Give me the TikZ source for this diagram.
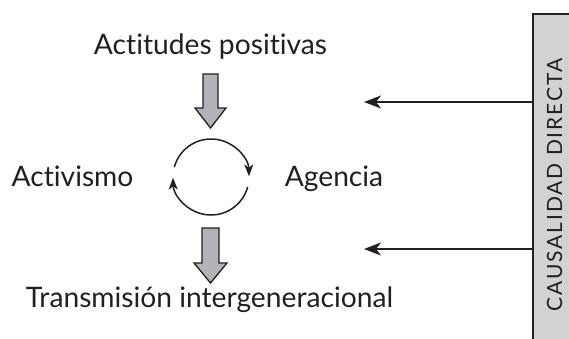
\documentclass[tikz,border=0pt]{standalone}
\usepackage{fontspec}
\setmainfont[Ligatures=NoCommon]{Lato}
\newfontfamily\spacedlato[LetterSpace=9]{Lato}
\usetikzlibrary{arrows.meta}
\definecolor{ink}{HTML}{231F20}
\definecolor{boxgray}{HTML}{D1D2D4}
\definecolor{arrgray}{HTML}{B1B3B6}
\tikzset{
  label text/.style={font=\fontsize{28.2}{33}\selectfont, text=ink, inner sep=0pt, anchor=base},
  side text/.style={font=\spacedlato\fontsize{21}{25}\selectfont, text=ink, inner sep=0pt, rotate=90},
  link/.style={draw=ink, line width=1.5pt, -{Stealth[length=17pt,width=13pt,inset=5pt]}},
  cycle arc/.style={draw=ink, line width=1.5pt, -{Stealth[length=12pt,width=9pt,inset=3.5pt]}},
  block arrow/.style={draw=ink, fill=arrgray, line width=1.3pt, line join=miter},
}
\begin{document}
\begin{tikzpicture}[x=1pt,y=1pt]
\useasboundingbox (0,0) rectangle (569,339);
% side box
\fill[boxgray] (533,0) rectangle (569,325);
\draw[ink, line width=2.2pt] (533,0) -- (533,325) -- (569,325);
\node[side text] (causal) at (554.5,154) {CAUSALIDAD DIRECTA};
\coordinate (edge) at (533,0);
% labels
\node[label text] (act) at (210.5,284) {Actitudes positivas};
\node[label text] (activ) at (72.5,152) {Activismo};
\node[label text] (agen) at (334,152) {Agencia};
\node[label text] (trans) at (209.5,31.5) {Transmisión intergeneracional};
% block arrows
\draw[block arrow] (203,265) -- (218,265) -- (218,231) -- (226,231) -- (210.5,211) -- (195,231) -- (203,231) -- cycle;
\draw[block arrow] (202,111) -- (219,111) -- (219,76) -- (227,76) -- (210.5,56) -- (194,76) -- (202,76) -- cycle;
% cycle
\coordinate (cc) at (211,162);
\draw[cycle arc] ([shift={(165:38)}]cc) arc[start angle=165, end angle=1, radius=38];
\draw[cycle arc] ([shift={(-15:38)}]cc) arc[start angle=-15, end angle=-179, radius=38];
% direct causality arrows
\coordinate (t1) at (364,237);
\coordinate (t2) at (364,90);
\draw[link] (edge |- t1) -- (t1);
\draw[link] (edge |- t2) -- (t2);
\end{tikzpicture}
\end{document}
